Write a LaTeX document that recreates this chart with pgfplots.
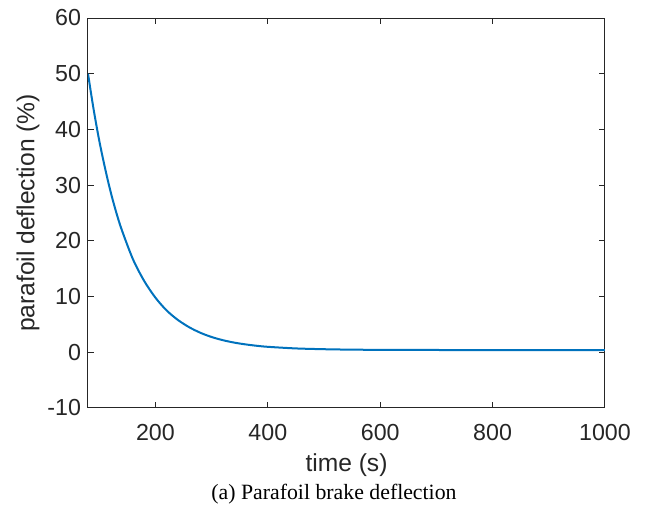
\documentclass[border=0pt]{standalone}
\usepackage{pgfplots}
\pgfplotsset{compat=1.18}
\usepackage{fontspec}
\setmainfont{Liberation Sans}
\newfontfamily\capfont{Liberation Serif}
\definecolor{mblue}{RGB}{0,114,189}
\definecolor{maxis}{RGB}{38,38,38}
\begin{document}
\begin{tikzpicture}
\path[use as bounding box] (0,0) rectangle (322.5pt,254pt);
\begin{axis}[
  at={(44pt,50pt)}, anchor=south west,
  scale only axis, width=258.5pt, height=195pt,
  xmin=80, xmax=1000, ymin=-10, ymax=60,
  xtick={200,400,600,800,1000},
  ytick={-10,0,10,20,30,40,50,60},
  tick align=inside, major tick length=3pt,
  axis line style={maxis, line width=0.5pt},
  every tick/.style={maxis, line width=0.5pt},
  tick label style={font=\fontsize{11.6}{13}\selectfont, text=maxis},
  xticklabel style={yshift=-4.5pt},
  /pgf/number format/assume math mode=true,
  /pgf/number format/1000 sep={},
  xlabel={time (s)}, ylabel={parafoil deflection (\%)},
  every axis x label/.style={at={([yshift=-28.5pt]axis description cs:0.5,0)}, anchor=center, font=\fontsize{12.3}{14}\selectfont, text=maxis},
  every axis y label/.style={at={([xshift=-30pt]axis description cs:0,0.5)}, rotate=90, anchor=center, font=\fontsize{12.3}{14}\selectfont, text=maxis},
]
\addplot[mblue, line width=1pt, smooth] coordinates {
(80,50.0) (90,43.6) (100,38.0) (110,33.2) (120,28.9) (130,25.2) (140,22.0) (160,16.7) (180,12.8) (200,9.8)
(220,7.5) (240,5.8) (260,4.5) (280,3.5) (300,2.74) (320,2.17) (340,1.74) (360,1.42)
(380,1.17) (400,0.98) (450,0.69) (500,0.55) (550,0.47) (600,0.44) (700,0.41) (800,0.40) (900,0.40) (1000,0.40)
};
\end{axis}
\node[font=\capfont\fontsize{10.9}{13}\selectfont, anchor=center] at (167pt,7pt) {(a) Parafoil brake deflection};
\end{tikzpicture}
\end{document}
